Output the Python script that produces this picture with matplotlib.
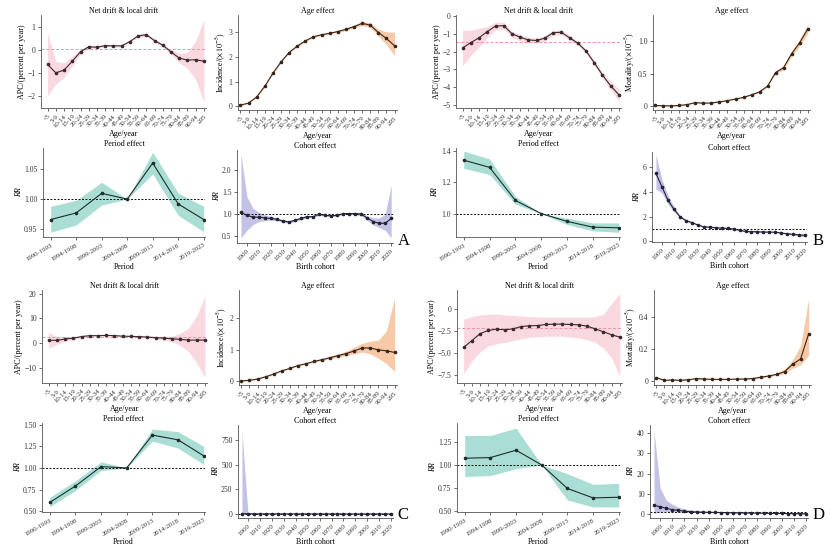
import matplotlib
matplotlib.use('Agg')
import matplotlib.pyplot as plt
import numpy as np

plt.rcParams['font.family'] = ['Liberation Serif', 'DejaVu Serif']
plt.rcParams['mathtext.fontset'] = 'stix'
plt.rcParams['axes.unicode_minus'] = True

# 横轴类别
ages = ['<5', '5-9', '10-14', '15-19', '20-24', '25-29', '30-34', '35-39', '40-44', '45-49',
        '50-54', '55-59', '60-64', '65-69', '70-74', '75-79', '80-84', '85-89', '90-94', '≥95']
periods = ['1990-1993', '1994-1998', '1999-2003', '2004-2008', '2009-2013', '2014-2018', '2019-2023']
cohorts = [1895, 1900, 1905, 1910, 1915, 1920, 1925, 1930, 1935, 1940, 1945, 1950, 1955,
           1960, 1965, 1970, 1975, 1980, 1985, 1990, 1995, 2000, 2005, 2010, 2015, 2020]

# A
a_drift = [-0.63, -1.0, -0.88, -0.49, -0.07, 0.15, 0.13, 0.2, 0.19, 0.19, 0.38, 0.63, 0.68, 0.42, 0.22, -0.08, -0.35, -0.44, -0.42, -0.49]
a_drift_lo = [-2.0, -1.5, -1.2, -0.7, -0.17, 0.08, 0.08, 0.15, 0.14, 0.14, 0.32, 0.56, 0.6, 0.35, 0.14, -0.18, -0.55, -0.8, -1.3, -2.3]
a_drift_hi = [0.75, -0.5, -0.55, -0.28, 0.03, 0.22, 0.18, 0.25, 0.24, 0.24, 0.44, 0.7, 0.76, 0.49, 0.3, 0.03, -0.15, -0.1, 0.4, 1.35]
a_net = 0.07
a_age = [0.05, 0.13, 0.38, 0.81, 1.34, 1.8, 2.18, 2.44, 2.65, 2.82, 2.9, 2.96, 3.03, 3.12, 3.23, 3.36, 3.29, 2.99, 2.75, 2.45]
a_age_lo = [0.03, 0.11, 0.36, 0.78, 1.31, 1.77, 2.15, 2.41, 2.62, 2.79, 2.87, 2.93, 2.99, 3.07, 3.17, 3.28, 3.19, 2.85, 2.5, 2.05]
a_age_hi = [0.07, 0.15, 0.4, 0.84, 1.37, 1.83, 2.21, 2.47, 2.68, 2.85, 2.93, 2.99, 3.07, 3.17, 3.29, 3.44, 3.39, 3.12, 3.02, 3.0]
a_per = [0.966, 0.977, 1.0096, 1.0, 1.06, 0.992, 0.966]
a_per_lo = [0.945, 0.957, 0.99, 1.0, 1.042, 0.973, 0.946]
a_per_hi = [0.988, 0.998, 1.028, 1.0, 1.078, 1.01, 0.988]
a_coh = [1.03, 0.96, 0.92, 0.92, 0.9, 0.89, 0.87, 0.83, 0.81, 0.85, 0.89, 0.93, 0.93, 0.985, 0.96, 0.95, 0.96, 1.0, 1.0, 1.0, 0.99, 0.9, 0.82, 0.78, 0.78, 0.89]
a_coh_lo = [0.45, 0.62, 0.75, 0.82, 0.84, 0.85, 0.84, 0.8, 0.78, 0.82, 0.86, 0.9, 0.91, 0.96, 0.94, 0.93, 0.94, 0.98, 0.98, 0.97, 0.95, 0.85, 0.74, 0.68, 0.62, 0.45]
a_coh_hi = [2.35, 1.38, 1.12, 1.03, 0.97, 0.93, 0.9, 0.86, 0.84, 0.88, 0.92, 0.96, 0.95, 1.01, 0.98, 0.97, 0.98, 1.02, 1.02, 1.03, 1.03, 0.95, 0.9, 0.9, 0.98, 1.65]

# B
b_drift = [-1.8, -1.5, -1.23, -0.88, -0.57, -0.55, -1.0, -1.2, -1.35, -1.38, -1.25, -0.94, -0.92, -1.23, -1.53, -1.97, -2.63, -3.32, -3.93, -4.43]
b_drift_lo = [-2.8, -2.2, -1.75, -1.2, -0.8, -0.75, -1.2, -1.4, -1.5, -1.55, -1.4, -1.1, -1.05, -1.35, -1.65, -2.1, -2.78, -3.5, -4.15, -4.8]
b_drift_hi = [-0.8, -0.8, -0.7, -0.6, -0.35, -0.35, -0.85, -1.05, -1.2, -1.25, -1.1, -0.8, -0.8, -1.1, -1.4, -1.85, -2.5, -3.15, -3.7, -4.1]
b_net = -1.44
b_age = [0.01, 0.005, 0.005, 0.01, 0.025, 0.055, 0.045, 0.05, 0.065, 0.085, 0.11, 0.135, 0.175, 0.22, 0.31, 0.52, 0.595, 0.81, 0.98, 1.19]
b_age_lo = [0.005, 0.0, 0.0, 0.005, 0.02, 0.05, 0.04, 0.045, 0.06, 0.08, 0.105, 0.13, 0.17, 0.21, 0.3, 0.5, 0.565, 0.77, 0.93, 1.12]
b_age_hi = [0.015, 0.01, 0.01, 0.015, 0.03, 0.06, 0.05, 0.055, 0.07, 0.09, 0.115, 0.14, 0.18, 0.23, 0.32, 0.54, 0.625, 0.85, 1.03, 1.26]
b_per = [1.342, 1.296, 1.084, 1.0, 0.95, 0.913, 0.909]
b_per_lo = [1.29, 1.25, 1.06, 1.0, 0.93, 0.89, 0.88]
b_per_hi = [1.4, 1.35, 1.11, 1.0, 0.97, 0.94, 0.94]
b_coh = [5.47, 4.4, 3.33, 2.6, 2.0, 1.68, 1.52, 1.33, 1.17, 1.15, 1.1, 1.07, 1.04, 1.0, 0.9, 0.8, 0.78, 0.78, 0.75, 0.75, 0.74, 0.67, 0.62, 0.56, 0.52, 0.48]
b_coh_lo = [4.2, 3.9, 3.0, 2.4, 1.9, 1.6, 1.46, 1.28, 1.13, 1.11, 1.06, 1.03, 1.0, 0.96, 0.86, 0.76, 0.74, 0.74, 0.71, 0.71, 0.7, 0.63, 0.57, 0.5, 0.44, 0.38]
b_coh_hi = [7.0, 5.0, 3.7, 2.8, 2.1, 1.76, 1.58, 1.38, 1.21, 1.19, 1.14, 1.11, 1.08, 1.04, 0.94, 0.84, 0.82, 0.82, 0.79, 0.79, 0.78, 0.71, 0.67, 0.62, 0.6, 0.58]

# C
c_drift = [1.1, 1.1, 1.6, 2.0, 2.6, 3.0, 3.0, 3.1, 3.0, 2.8, 2.7, 2.6, 2.4, 2.2, 2.0, 1.7, 1.5, 1.2, 1.2, 1.2]
c_drift_lo = [-2.0, -0.5, 0.7, 1.5, 2.2, 2.6, 2.7, 2.8, 2.7, 2.5, 2.4, 2.2, 2.0, 1.7, 1.3, 0.6, -1.0, -3.5, -8.0, -14.0]
c_drift_hi = [4.2, 2.7, 2.5, 2.6, 3.0, 3.4, 3.3, 3.4, 3.3, 3.1, 3.0, 3.0, 2.8, 2.7, 2.7, 2.8, 4.0, 6.0, 11.0, 19.0]
c_net = 2.3
c_age = [0.0, 0.02, 0.06, 0.13, 0.22, 0.32, 0.4, 0.49, 0.55, 0.62, 0.68, 0.74, 0.81, 0.87, 0.96, 1.05, 1.05, 0.99, 0.96, 0.91]
c_age_lo = [0.0, 0.01, 0.05, 0.12, 0.21, 0.31, 0.39, 0.47, 0.53, 0.6, 0.65, 0.7, 0.76, 0.8, 0.86, 0.92, 0.86, 0.72, 0.55, 0.3]
c_age_hi = [0.01, 0.03, 0.07, 0.14, 0.23, 0.33, 0.41, 0.51, 0.57, 0.64, 0.71, 0.78, 0.86, 0.95, 1.08, 1.2, 1.27, 1.3, 1.6, 2.65]
c_per = [0.6, 0.79, 1.015, 1.0, 1.38, 1.325, 1.14]
c_per_lo = [0.55, 0.74, 0.97, 1.0, 1.31, 1.23, 1.04]
c_per_hi = [0.66, 0.85, 1.07, 1.0, 1.45, 1.42, 1.25]
c_coh = [3.5, 2.6, 2.2, 1.9, 1.7, 1.6, 1.5, 1.4, 1.3, 1.25, 1.2, 1.15, 1.1, 1.05, 1.0, 0.95, 0.9, 0.88, 0.85, 0.82, 0.8, 0.78, 0.75, 0.72, 0.7, 0.68]
c_coh_lo = [0.01, 0.4, 1.0, 1.2, 1.3, 1.3, 1.3, 1.2, 1.1, 1.1, 1.05, 1.0, 1.0, 0.95, 0.9, 0.85, 0.8, 0.78, 0.75, 0.72, 0.7, 0.68, 0.64, 0.6, 0.55, 0.4]
c_coh_hi = [830, 15, 5, 3, 2.3, 2.0, 1.8, 1.6, 1.5, 1.4, 1.35, 1.3, 1.2, 1.15, 1.1, 1.05, 1.0, 0.98, 0.95, 0.92, 0.9, 0.88, 0.86, 0.85, 0.9, 1.2]

# D
d_drift = [-4.38, -3.6, -2.8, -2.43, -2.28, -2.36, -2.25, -1.98, -1.9, -1.87, -1.75, -1.71, -1.71, -1.75, -1.79, -1.94, -2.25, -2.59, -2.93, -3.2]
d_drift_lo = [-7.4, -5.95, -4.9, -4.2, -3.96, -3.8, -3.6, -3.4, -3.23, -3.15, -3.1, -3.1, -3.1, -3.2, -3.3, -3.5, -3.8, -4.45, -5.6, -7.7]
d_drift_hi = [-1.14, -0.85, -0.65, -0.57, -0.57, -0.65, -0.72, -0.78, -0.84, -0.87, -0.89, -0.91, -0.91, -0.91, -0.91, -0.91, -0.85, -0.57, 0.7, 1.8]
d_net = -2.17
d_age = [0.021, 0.004, 0.006, 0.004, 0.008, 0.015, 0.012, 0.01, 0.01, 0.01, 0.012, 0.012, 0.015, 0.023, 0.031, 0.041, 0.058, 0.104, 0.137, 0.292]
d_age_lo = [0.017, 0.002, 0.004, 0.002, 0.006, 0.013, 0.01, 0.008, 0.008, 0.008, 0.01, 0.01, 0.012, 0.019, 0.026, 0.035, 0.045, 0.08, 0.1, 0.16]
d_age_hi = [0.025, 0.006, 0.008, 0.006, 0.01, 0.017, 0.014, 0.012, 0.012, 0.012, 0.014, 0.015, 0.018, 0.027, 0.036, 0.05, 0.075, 0.13, 0.22, 0.51]
d_per = [1.073, 1.08, 1.16, 1.0, 0.745, 0.643, 0.65]
d_per_lo = [0.875, 0.885, 0.96, 1.0, 0.62, 0.545, 0.545]
d_per_hi = [1.32, 1.32, 1.4, 1.0, 0.905, 0.79, 0.8]
d_coh = [4.4, 3.8, 3.0, 2.3, 2.0, 1.5, 1.3, 1.15, 1.05, 1.0, 0.95, 0.9, 0.85, 0.8, 0.75, 0.7, 0.65, 0.6, 0.55, 0.5, 0.5, 0.45, 0.4, 0.38, 0.3, 0.25]
d_coh_lo = [0.5, 1.1, 1.3, 1.2, 1.2, 1.0, 0.95, 0.9, 0.85, 0.82, 0.8, 0.76, 0.72, 0.68, 0.64, 0.6, 0.55, 0.5, 0.45, 0.4, 0.4, 0.35, 0.3, 0.27, 0.2, 0.12]
d_coh_hi = [41, 13, 7, 5, 3.5, 2.7, 2.2, 1.8, 1.5, 1.3, 1.2, 1.1, 1.0, 0.95, 0.9, 0.83, 0.78, 0.72, 0.66, 0.62, 0.62, 0.57, 0.52, 0.52, 0.45, 0.5]

W, H = 833, 556
FS = 5.8
TS = 5.5
AS = 4.8


def px(l, t, r, b):
    return [l / W, 1 - b / H, (r - l) / W, (b - t) / H]


def style(ax):
    for s in ['top', 'right']:
        ax.spines[s].set_visible(False)
    for s in ['left', 'bottom']:
        ax.spines[s].set_linewidth(0.6)
        ax.spines[s].set_color('#555555')
    ax.tick_params(direction='out', length=2.5, width=0.5, labelsize=TS, pad=1.5, colors='#333333')


def set_y(ax, ylim, ticks, labels):
    ax.set_ylim(*ylim)
    ax.set_yticks(ticks)
    ax.set_yticklabels(labels)


def draw_drift(ax, vals, lo, hi, net, ylim, ticks, labels):
    x = np.arange(len(ages))
    ax.fill_between(x, lo, hi, color='#F9D2DA', alpha=0.85, lw=0)
    ax.axhline(net, color='#F190A6', ls='--', lw=0.7, dashes=(3, 2))
    ax.plot(x, vals, color='#3a2a2e', lw=0.8, marker='o', ms=1.6)
    ax.set_xlim(-0.8, 19.25)
    ax.set_xticks(x)
    ax.set_xticklabels(ages, rotation=45, ha='right', rotation_mode='anchor')
    set_y(ax, ylim, ticks, labels)
    ax.set_title('Net drift & local drift', fontsize=FS, pad=-1)
    ax.set_xlabel('Age/year', fontsize=FS, labelpad=1)
    ax.set_ylabel('APC/(percent per year)', fontsize=FS, labelpad=1)
    style(ax)
    ax.tick_params(axis='x', labelsize=AS)


def draw_age(ax, vals, lo, hi, ylabel, ylim, ticks, labels):
    x = np.arange(len(ages))
    ax.fill_between(x, lo, hi, color='#F6B88A', alpha=0.75, lw=0)
    ax.plot(x, vals, color='#3a2418', lw=0.8, marker='o', ms=1.6)
    ax.set_xlim(-0.3, 19.3)
    ax.set_xticks(x)
    ax.set_xticklabels(ages, rotation=45, ha='right', rotation_mode='anchor')
    set_y(ax, ylim, ticks, labels)
    ax.set_title('Age effect', fontsize=FS, pad=-1)
    ax.set_xlabel('Age/year', fontsize=FS, labelpad=1)
    ax.set_ylabel(ylabel, fontsize=FS, labelpad=1)
    style(ax)
    ax.tick_params(axis='x', labelsize=AS)


def draw_period(ax, vals, lo, hi, ylim, ticks, labels):
    x = np.arange(len(periods))
    ax.fill_between(x, lo, hi, color='#8ED3C7', alpha=0.75, lw=0)
    ax.axhline(1.0, color='#111111', ls='--', lw=0.7, dashes=(2, 1.6))
    ax.plot(x, vals, color='#1d2e2b', lw=0.8, marker='o', ms=1.6)
    ax.set_xlim(-0.3, 6.05)
    ax.set_xticks(x)
    ax.set_xticklabels(periods, rotation=30, ha='right', rotation_mode='anchor')
    set_y(ax, ylim, ticks, labels)
    ax.set_title('Period effect', fontsize=FS, pad=1)
    ax.set_xlabel('Period', fontsize=FS, labelpad=1)
    ax.set_ylabel('RR', fontsize=FS, style='italic', labelpad=1)
    style(ax)
    ax.tick_params(axis='x', labelsize=4.9)


def draw_cohort(ax, vals, lo, hi, ylim, ticks, labels):
    ax.fill_between(cohorts, lo, hi, color='#B3B3E2', alpha=0.8, lw=0)
    ax.axhline(1.0, color='#111111', ls='--', lw=0.7, dashes=(2, 1.6))
    ax.plot(cohorts, vals, color='#222233', lw=0.8, marker='o', ms=1.6)
    ax.set_xlim(1891.7, 2021.5)
    xt = list(range(1900, 2021, 10))
    ax.set_xticks(xt)
    ax.set_xticklabels([str(v) for v in xt], rotation=45, ha='right', rotation_mode='anchor')
    set_y(ax, ylim, ticks, labels)
    ax.set_title('Cohort effect', fontsize=FS, pad=1)
    ax.set_xlabel('Birth cohort', fontsize=FS, labelpad=1)
    ax.set_ylabel('RR', fontsize=FS, style='italic', labelpad=1)
    style(ax)
    ax.tick_params(axis='x', labelsize=5)


inc_lab = r'Incidence/($\times10^{-5}$)'
mor_lab = r'Mortality/($\times10^{-5}$)'

fig = plt.figure(figsize=(W / 100, H / 100), dpi=100)

# A
draw_drift(fig.add_axes(px(41, 15, 206, 108)), a_drift, a_drift_lo, a_drift_hi, a_net,
           (-2.55, 1.55), [-2, -1, 0, 1], ['−2', '−1', '0', '1'])
draw_age(fig.add_axes(px(238, 15, 397, 110)), a_age, a_age_lo, a_age_hi, inc_lab,
         (-0.15, 3.7), [0, 1, 2, 3], ['0', '1', '2', '3'])
draw_period(fig.add_axes(px(43, 148, 205, 237)), a_per, a_per_lo, a_per_hi,
            (0.937, 1.085), [0.95, 1.0, 1.05], ['0.95', '1.00', '1.05'])
draw_cohort(fig.add_axes(px(237, 150, 393, 243)), a_coh, a_coh_lo, a_coh_hi,
            (0.33, 2.45), [0.5, 1.0, 1.5, 2.0], ['0.5', '1.0', '1.5', '2.0'])

# B
draw_drift(fig.add_axes(px(456, 15, 621, 108)), b_drift, b_drift_lo, b_drift_hi, b_net,
           (-5.17, 0.05), [-5, -4, -3, -2, -1, 0], ['−5', '−4', '−3', '−2', '−1', '0'])
draw_age(fig.add_axes(px(653, 15, 810, 110)), b_age, b_age_lo, b_age_hi, mor_lab,
         (-0.06, 1.41), [0, 0.5, 1.0], ['0', '0.5', '1.0'])
draw_period(fig.add_axes(px(456, 148, 620, 237)), b_per, b_per_lo, b_per_hi,
            (0.85, 1.42), [1.0, 1.2, 1.4], ['1.0', '1.2', '1.4'])
draw_cohort(fig.add_axes(px(652, 152, 807, 242)), b_coh, b_coh_lo, b_coh_hi,
            (-0.05, 7.2), [0, 2, 4, 6], ['0', '2', '4', '6'])

# C
draw_drift(fig.add_axes(px(42, 290, 207, 383)), c_drift, c_drift_lo, c_drift_hi, c_net,
           (-16.2, 21.5), [-10, 0, 10, 20], ['−10', '0', '10', '20'])
draw_age(fig.add_axes(px(239, 290, 397, 385)), c_age, c_age_lo, c_age_hi, inc_lab,
         (-0.13, 2.9), [0, 1, 2], ['0', '1', '2'])
draw_period(fig.add_axes(px(42, 423, 205, 512)), c_per, c_per_lo, c_per_hi,
            (0.49, 1.52), [0.5, 0.75, 1.0, 1.25, 1.5], ['0.50', '0.75', '1.00', '1.25', '1.50'])
draw_cohort(fig.add_axes(px(238, 425, 393, 518)), c_coh, c_coh_lo, c_coh_hi,
            (-40, 900), [0, 250, 500, 750], ['0', '250', '500', '750'])

# D
draw_drift(fig.add_axes(px(457, 290, 622, 383)), d_drift, d_drift_lo, d_drift_hi, d_net,
           (-8.45, 2.2), [-7.5, -5.0, -2.5, 0], ['−7.5', '−5.0', '−2.5', '0'])
draw_age(fig.add_axes(px(654, 290, 811, 385)), d_age, d_age_lo, d_age_hi, mor_lab,
         (-0.025, 0.566), [0, 0.2, 0.4], ['0', '0.2', '0.4'])
draw_period(fig.add_axes(px(457, 423, 620, 512)), d_per, d_per_lo, d_per_hi,
            (0.49, 1.455), [0.5, 0.75, 1.0, 1.25], ['0.50', '0.75', '1.00', '1.25'])
draw_cohort(fig.add_axes(px(650, 425, 808, 518)), d_coh, d_coh_lo, d_coh_hi,
            (-1.8, 44), [0, 10, 20, 30, 40], ['0', '10', '20', '30', '40'])

# 面板字母
for letter, (lx, ly) in zip('ABCD', [(398, 241), (813, 241), (397, 515), (813, 515)]):
    fig.text(lx / W, 1 - ly / H, letter, fontsize=12, ha='left', va='center')

fig.savefig('out.png', dpi=100)
